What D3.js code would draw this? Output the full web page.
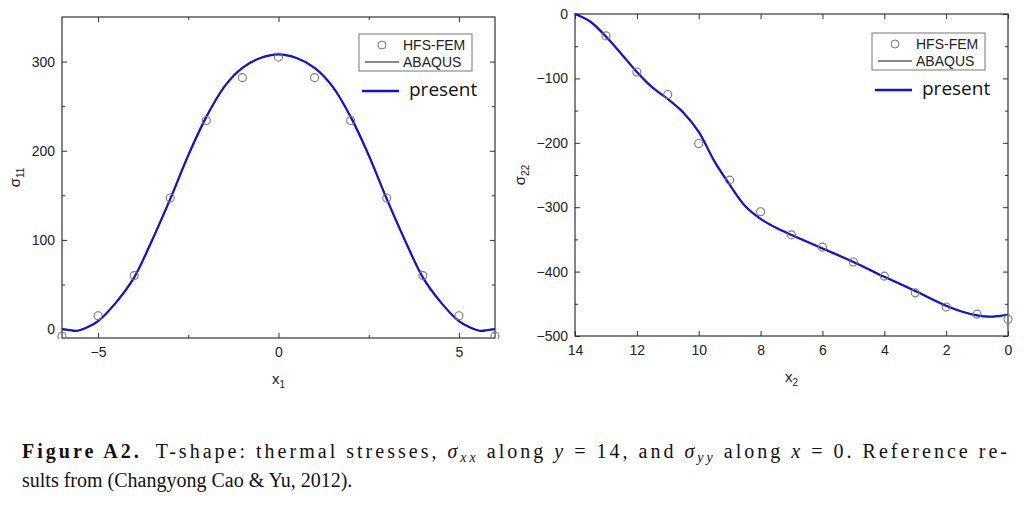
<!DOCTYPE html><html><head><meta charset="utf-8">
<script src="https://cdn.jsdelivr.net/npm/d3@7"></script>
<style>body{margin:0;background:#fff}</style></head><body>
<svg id="s" width="1024" height="507"></svg>
<script>
const leftPtsX=[-6,-5,-4,-3,-2,-1,0,1,2,3,4,5,6];
const leftPtsY=[-8,15,60,147,234,282,305,282,234,147,60,15,-8];
const leftCurveX=[-6,-5.8,-5.6,-5.3,-5,-4.5,-4,-3.5,-3,-2.5,-2,-1.5,-1,-0.5,0,0.5,1,1.5,2,2.5,3,3.5,4,4.5,5,5.3,5.6,5.8,6];
const leftCurveY=[0,-1,-2,2,9,30,58,100,146,195,238,272,293,304,308,304,293,272,238,195,146,100,58,30,9,2,-2,-1,0];
const rightPtsX=[13,12,11,10,9,8,7,6,5,4,3,2,1,0];
const rightPtsY=[-34,-90,-125,-201,-258,-307,-343,-362,-385,-407,-433,-455,-466,-474];
const rightCurveX=[14,13.5,13,12.5,12,11.5,11,10.5,10,9.5,9,8.5,8,7.5,7,6,5,4,3,2,1.5,1,0.6,0.3,0];
const rightCurveY=[0,-12,-35,-62,-90,-114,-132,-153,-183,-228,-265,-298,-318,-332,-343,-364,-385,-408,-430,-453,-462,-468,-470,-469,-467];
const leftYTicks=[0,100,200,300], leftXTicks=[-5,0,5];
const rightYTicks=[0,-100,-200,-300,-400,-500], rightXTicks=[14,12,10,8,6,4,2,0];

const svg=d3.select("#s");
function panel(o){
  const x=d3.scaleLinear().domain(o.xd).range([o.l,o.r]);
  const y=d3.scaleLinear().domain(o.yd).range([o.b,o.t]);
  const g=svg.append("g").attr("font-family","Liberation Sans, Arial").attr("font-size",14).attr("fill","#222");
  g.append("g").attr("transform",`translate(0,${o.b})`).call(d3.axisBottom(x).tickValues(o.xt).tickSize(-5).tickPadding(9));
  g.append("g").attr("transform",`translate(0,${o.t})`).call(d3.axisTop(x).tickValues(o.xt).tickSize(-5).tickFormat(""));
  g.append("g").attr("transform",`translate(0,${o.b})`).call(d3.axisBottom(x).tickValues(o.xm).tickSize(-3).tickFormat(""));
  g.append("g").attr("transform",`translate(0,${o.t})`).call(d3.axisTop(x).tickValues(o.xm).tickSize(-3).tickFormat(""));
  g.append("g").attr("transform",`translate(${o.l},0)`).call(d3.axisLeft(y).tickValues(o.yt).tickSize(-5).tickPadding(7));
  g.append("g").attr("transform",`translate(${o.r},0)`).call(d3.axisRight(y).tickValues(o.yt).tickSize(-5).tickFormat(""));
  g.append("g").attr("transform",`translate(${o.l},0)`).call(d3.axisLeft(y).tickValues(o.ym).tickSize(-3).tickFormat(""));
  g.append("g").attr("transform",`translate(${o.r},0)`).call(d3.axisRight(y).tickValues(o.ym).tickSize(-3).tickFormat(""));
  g.selectAll(".domain").remove();
  g.selectAll(".tick line").attr("stroke","#333");
  g.selectAll(".tick text").attr("fill","#222").attr("font-size",14);
  g.append("rect").attr("x",o.l).attr("y",o.t).attr("width",o.r-o.l).attr("height",o.b-o.t).attr("fill","none").attr("stroke","#333").attr("stroke-width",1.2);
  const ln=d3.line().x((d,i)=>x(o.cx[i])).y(d=>y(d)).curve(d3.curveCatmullRom);
  g.append("path").attr("d",ln(o.cy)).attr("fill","none").attr("stroke","#111").attr("stroke-width",1.2);
  g.append("path").attr("d",ln(o.cy)).attr("fill","none").attr("stroke","#1010e0").attr("stroke-width",2.2);
  const clip="c"+o.l;
  svg.append("clipPath").attr("id",clip).append("rect").attr("x",o.l-6).attr("y",o.t).attr("width",o.r-o.l+12).attr("height",o.b-o.t+1);
  g.append("g").attr("clip-path",`url(#${clip})`).selectAll("circle").data(o.py).join("circle")
   .attr("cx",(d,i)=>x(o.px[i])).attr("cy",d=>y(d)).attr("r",4).attr("fill","none").attr("stroke","#777").attr("stroke-width",1.1);
  const L=o.leg;
  g.append("rect").attr("x",L.x).attr("y",L.y).attr("width",113).attr("height",37).attr("fill","#fff").attr("stroke","#777");
  g.append("circle").attr("cx",L.x+23).attr("cy",L.y+11).attr("r",4).attr("fill","none").attr("stroke","#777");
  g.append("text").attr("x",L.x+44).attr("y",L.y+16).text("HFS-FEM").attr("font-size",14);
  g.append("line").attr("x1",L.x+6).attr("x2",L.x+40).attr("y1",L.y+28).attr("y2",L.y+28).attr("stroke","#111");
  g.append("text").attr("x",L.x+44).attr("y",L.y+33).text("ABAQUS").attr("font-size",14);
  g.append("line").attr("x1",L.x+3).attr("x2",L.x+40).attr("y1",L.y+57).attr("y2",L.y+57).attr("stroke","#1010e0").attr("stroke-width",2.5);
  g.append("text").attr("x",L.x+50).attr("y",L.y+62).text("present").attr("font-family","Open Sans").attr("font-size",19).attr("fill","#111");
  const xl=g.append("text").attr("x",(o.l+o.r)/2).attr("y",o.b+46).attr("text-anchor","middle").attr("font-size",15);
  xl.append("tspan").text("x"); xl.append("tspan").attr("font-size",10).attr("dy",4).text(o.sub);
  const yl=g.append("text").attr("transform",`translate(${o.l-o.yoff},${(o.t+o.b)/2}) rotate(-90)`).attr("text-anchor","middle").attr("font-size",15);
  yl.append("tspan").text("σ"); yl.append("tspan").attr("font-size",10).attr("dy",4).text(o.ysub);
}
panel({xd:[-6,6],yd:[-10,350],l:62,r:495,t:17,b:338,xt:leftXTicks,xm:[-2.5,2.5],yt:leftYTicks,ym:[50,150,250],
  cx:leftCurveX,cy:leftCurveY,px:leftPtsX,py:leftPtsY,leg:{x:359,y:34},sub:"1",ysub:"11",yoff:42});
panel({xd:[14,0],yd:[-500,0],l:575,r:1008,t:14,b:336,xt:rightXTicks,xm:[],yt:rightYTicks,ym:[-50,-150,-250,-350,-450],
  cx:rightCurveX,cy:rightCurveY,px:rightPtsX,py:rightPtsY,leg:{x:872,y:33},sub:"2",ysub:"22",yoff:50});
const cap=svg.append("g").attr("font-family","Liberation Serif, DejaVu Serif").attr("font-size",20).attr("fill","#111");
const t1=cap.append("text").attr("x",22).attr("y",458);
t1.append("tspan").attr("font-weight","bold").text("Figure  A2.");
t1.append("tspan").attr("dx",14).text("T-shape: thermal stresses, ");
t1.append("tspan").attr("font-style","italic").text("σ");
t1.append("tspan").attr("font-style","italic").attr("font-size",14).attr("dy",4).text("xx");
t1.append("tspan").attr("dy",-4).text(" along ");
t1.append("tspan").attr("font-style","italic").text("y");
t1.append("tspan").text(" = 14, and ");
t1.append("tspan").attr("font-style","italic").text("σ");
t1.append("tspan").attr("font-style","italic").attr("font-size",14).attr("dy",4).text("yy");
t1.append("tspan").attr("dy",-4).text(" along ");
t1.append("tspan").attr("font-style","italic").text("x");
t1.append("tspan").text(" = 0. Reference re-");
t1.attr("textLength",985).attr("lengthAdjust","spacing");
cap.append("text").attr("x",22).attr("y",487).text("sults from (Changyong Cao & Yu, 2012).");
</script></body></html>
